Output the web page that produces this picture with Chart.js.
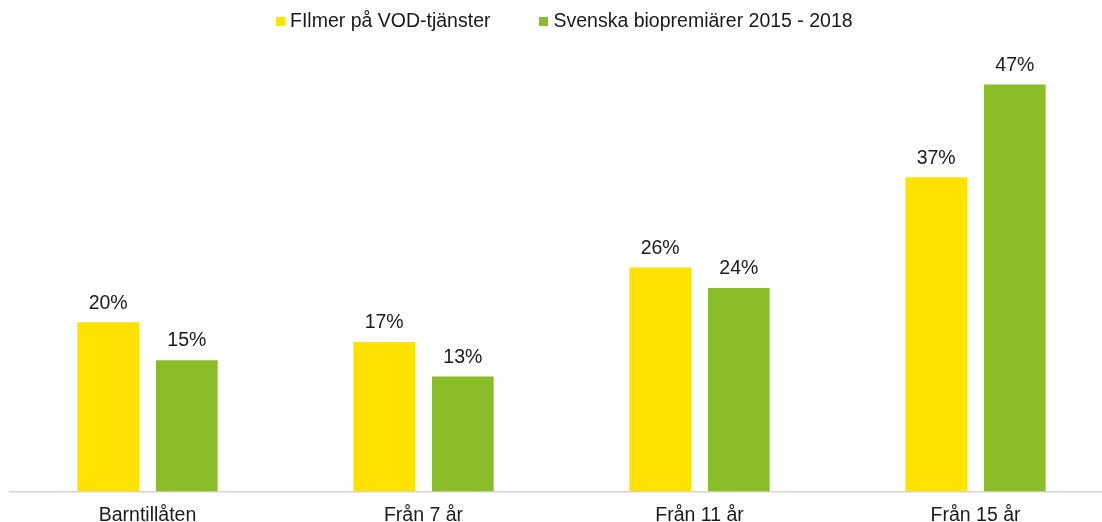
<!DOCTYPE html>
<html>
<head>
<meta charset="utf-8">
<script src="https://cdn.jsdelivr.net/npm/chart.js@4/dist/chart.umd.min.js"></script>
<style>
  html, body { margin: 0; padding: 0; background: #fff; overflow: hidden; width: 1102px; height: 522px; }
  #wrap { position: relative; width: 1120px; height: 522px; }
  #legend { position: absolute; left: 276px; top: 9px; display: flex; align-items: center;
            font-family: "Liberation Sans", Arial, sans-serif; font-size: 19.5px; color: #1a1a1a; white-space: nowrap; }
  .item { display: flex; align-items: center; }
  .item + .item { margin-left: 49px; }
  .sw { width: 9px; height: 9px; margin-right: 5px; margin-top: 1px; }
</style>
</head>
<body>
<div id="wrap">
  <canvas id="c" width="1120" height="522"></canvas>
  <div id="legend"></div>
</div>
<script>
const categories = ["Barntillåten", "Från 7 år", "Från 11 år", "Från 15 år"];
const seriesNames = ["FIlmer på VOD-tjänster", "Svenska biopremiärer 2015 - 2018"];
const vodValues = [19.7, 17.4, 26.1, 36.6];
const bioValues = [15.3, 13.4, 23.7, 47.4];
const seriesColors = ["#FFE200", "#8ABD28"];

const FONT = '"Liberation Sans", Arial, sans-serif';

const valueLabels = {
  id: 'valueLabels',
  afterDatasetsDraw(chart) {
    const ctx = chart.ctx;
    ctx.save();
    ctx.font = '19.5px ' + FONT;
    ctx.fillStyle = '#1a1a1a';
    ctx.textAlign = 'center';
    ctx.textBaseline = 'alphabetic';
    chart.data.datasets.forEach((ds, i) => {
      chart.getDatasetMeta(i).data.forEach((bar, j) => {
        ctx.fillText(Math.round(ds.data[j]) + '%', bar.x, bar.y - 13.7);
      });
    });
    ctx.restore();
  }
};

const chart = new Chart(document.getElementById('c'), {
  type: 'bar',
  data: {
    labels: categories,
    datasets: [
      { label: seriesNames[0], data: vodValues, backgroundColor: seriesColors[0] },
      { label: seriesNames[1], data: bioValues, backgroundColor: seriesColors[1] }
    ]
  },
  options: {
    responsive: false,
    animation: false,
    devicePixelRatio: 1,
    categoryPercentage: 0.57,
    barPercentage: 0.784,
    layout: { padding: { top: 45, left: 9.5, right: 6.5, bottom: 0 } },
    plugins: { legend: { display: false }, tooltip: { enabled: false } },
    scales: {
      x: {
        grid: { display: false, drawTicks: false },
        border: { display: true, color: '#d4d4d4', width: 1.5 },
        ticks: { color: '#1a1a1a', font: { family: FONT, size: 19.5 }, padding: 12.5, maxRotation: 0, autoSkip: false },
        afterFit(scale) { scale.height = 30.5; }
      },
      y: { display: false, min: 0, max: 52 }
    }
  },
  plugins: [valueLabels]
});

const legend = document.getElementById('legend');
chart.data.datasets.forEach(ds => {
  const item = document.createElement('div');
  item.className = 'item';
  const sw = document.createElement('span');
  sw.className = 'sw';
  sw.style.background = ds.backgroundColor;
  const tx = document.createElement('span');
  tx.textContent = ds.label;
  item.appendChild(sw);
  item.appendChild(tx);
  legend.appendChild(item);
});
</script>
</body>
</html>
